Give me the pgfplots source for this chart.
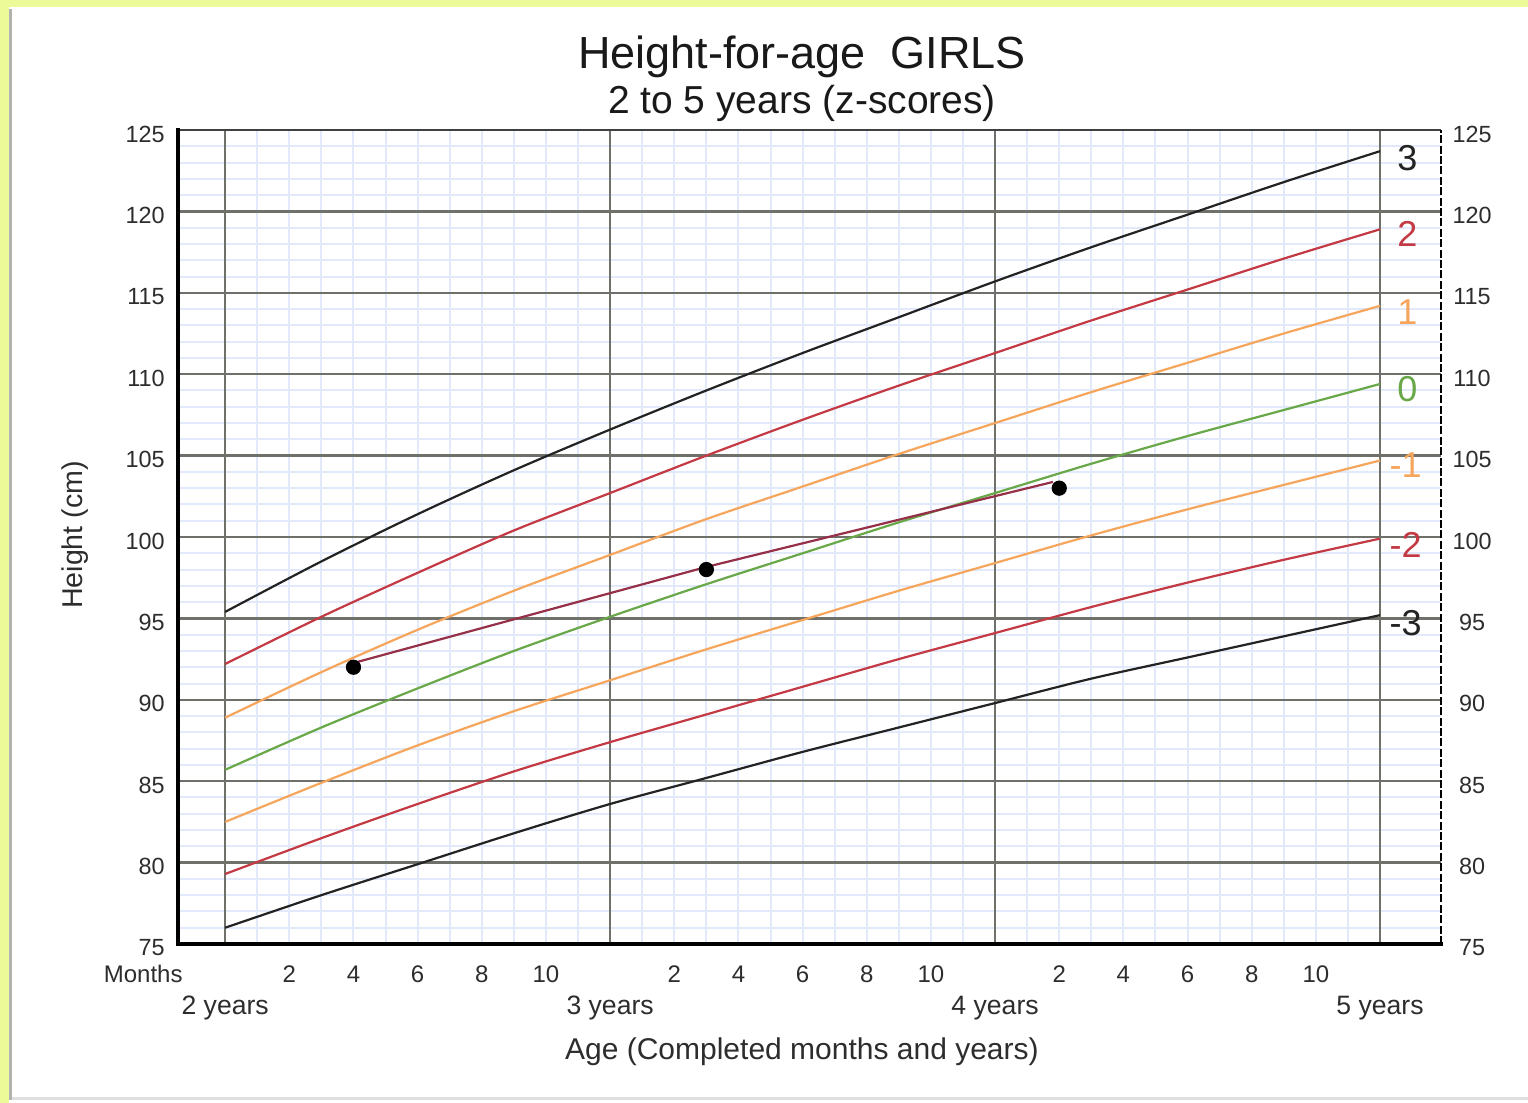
\documentclass[border=0pt]{standalone}
\usepackage{fontspec}
\setmainfont{Liberation Sans}
\usepackage{pgfplots}
\pgfplotsset{compat=1.18}
\usepackage{pgfplotstable}

\definecolor{zblack}{RGB}{35,35,35}
\definecolor{zred}{RGB}{196,58,68}
\definecolor{zorange}{RGB}{246,166,92}
\definecolor{zgreen}{RGB}{104,168,72}
\definecolor{pathred}{RGB}{150,48,72}
\definecolor{gridblue}{RGB}{226,233,250}
\definecolor{gridgray}{RGB}{112,112,106}
\definecolor{txt}{RGB}{45,45,45}
\definecolor{frameyellow}{RGB}{236,251,152}

% WHO height-for-age, girls, 24-60 months (z-score curves)
\pgfplotstableread{
age  m3    m2    m1    z0    p1    p2    p3
24   76.0  79.3  82.5  85.7  88.9  92.2  95.4
27   78.0  81.5  84.9  88.3  91.7  95.1  98.5
30   79.9  83.6  87.2  90.7  94.3  97.8  101.4
33   81.8  85.6  89.3  93.0  96.7  100.4 104.1
36   83.6  87.4  91.2  95.1  98.9  102.7 106.6
39   85.2  89.1  93.1  97.1  101.1 105.0 109.0
42   86.8  90.8  94.9  99.0  103.1 107.2 111.3
45   88.3  92.5  96.7  100.9 105.1 109.3 113.5
48   89.8  94.1  98.4  102.7 107.0 111.3 115.7
51   91.3  95.7  100.1 104.5 108.9 113.3 117.8
54   92.6  97.2  101.7 106.2 110.7 115.2 119.8
57   93.9  98.6  103.2 107.8 112.5 117.1 121.8
60   95.2  99.9  104.7 109.4 114.2 118.9 123.7
}\hfa

\begin{document}
\begin{tikzpicture}
% page frame
\fill[frameyellow] (0,0) rectangle (764pt,551.5pt);
\fill[white] (4.5pt,0) rectangle (764pt,548pt);
\fill[black!30] (4.5pt,1.5pt) rectangle (6pt,547pt);
\fill[black!12] (6pt,1.5pt) rectangle (764pt,3pt);
\useasboundingbox (0,0) rectangle (764pt,551.5pt);

\begin{axis}[
  at={(89pt,79.5pt)}, anchor=south west,
  scale only axis, width=631.5pt, height=407pt,
  xmin=22.53, xmax=61.9, ymin=75, ymax=125,
  clip=false,
  axis line style={draw=none},
  major tick length=0pt, minor tick length=0pt,
  xtick={24,36,48,60},
  xticklabels={2 years,3 years,4 years,5 years},
  minor xtick={25,...,59},
  ytick={75,80,...,125},
  minor ytick={76,...,124},
  xmajorgrids=false, xminorgrids=true,
  ymajorgrids=true, yminorgrids=true,
  minor grid style={draw=gridblue, line width=1pt},
  major grid style={draw=gridgray, line width=1.25pt},
  xticklabel style={font=\fontsize{13.3}{15}\selectfont, text=txt, anchor=base, yshift=-35.5pt},
  extra x ticks={26,28,30,32,34,38,40,42,44,46,50,52,54,56,58},
  extra x tick labels={2,4,6,8,10,2,4,6,8,10,2,4,6,8,10},
  extra x tick style={grid=none, xticklabel style={font=\fontsize{12}{14}\selectfont, yshift=16pt}},
  yticklabel style={font=\fontsize{11.7}{13}\selectfont, text=txt, anchor=east, inner sep=0pt, xshift=-6.5pt, yshift=-2pt},
  /pgf/number format/assume math mode=true,
  xlabel={Age (Completed months and years)},
  xlabel style={at={(axis description cs:0.494,-0.1425)}, anchor=base, font=\fontsize{15}{17}\selectfont, text=txt},
  ylabel={Height (cm)},
  ylabel style={at={(axis description cs:-0.0816,0.5025)}, anchor=center, font=\fontsize{14.3}{16}\selectfont, text=txt},
]
% yearly lines
\foreach \yr in {24,36,48,60}{
  \edef\temp{\noexpand\draw[gridgray, line width=1.25pt] (axis cs:\yr,75) -- (axis cs:\yr,125);}
  \temp
}

\addplot[zblack, line width=1.1pt, smooth] table[x=age, y=p3] {\hfa};
\addplot[zred, line width=1.1pt, smooth] table[x=age, y=p2] {\hfa};
\addplot[zorange, line width=1.1pt, smooth] table[x=age, y=p1] {\hfa};
\addplot[zgreen, line width=1.1pt, smooth] table[x=age, y=z0] {\hfa};
\addplot[zorange, line width=1.1pt, smooth] table[x=age, y=m1] {\hfa};
\addplot[zred, line width=1.1pt, smooth] table[x=age, y=m2] {\hfa};
\addplot[zblack, line width=1.1pt, smooth] table[x=age, y=m3] {\hfa};

% child's measurements
\addplot[pathred, line width=1.1pt] coordinates {(28,92.26) (39,98.16) (49.8,103.38)};
\addplot[only marks, mark=*, mark size=3.6pt, black] coordinates {(28,92.0) (39,98.0) (50,103.0)};

% curve labels
\node[text=zblack, font=\fontsize{18}{20}\selectfont] at (axis cs:60.85,123.3) {3};
\node[text=zred, font=\fontsize{18}{20}\selectfont] at (axis cs:60.85,118.6) {2};
\node[text=zorange, font=\fontsize{18}{20}\selectfont] at (axis cs:60.85,113.8) {1};
\node[text=zgreen, font=\fontsize{18}{20}\selectfont] at (axis cs:60.85,109.1) {0};
\node[text=zorange, font=\fontsize{18}{20}\selectfont] at (axis cs:60.8,104.4) {-1};
\node[text=zred, font=\fontsize{18}{20}\selectfont] at (axis cs:60.8,99.5) {-2};
\node[text=zblack, font=\fontsize{18}{20}\selectfont] at (axis cs:60.8,94.7) {-3};

% borders
\draw[line width=1.3pt, black!75] (rel axis cs:0,1) -- (rel axis cs:1,1);
\draw[line width=1.3pt, black, dash pattern=on 4pt off 1.2pt] (rel axis cs:1,0) -- (rel axis cs:1,1);
\draw[line width=2pt, black, line cap=rect] (rel axis cs:0,1) -- (rel axis cs:0,0) -- (rel axis cs:1,0);
\end{axis}

% right-hand height scale
\begin{axis}[
  at={(89pt,79.5pt)}, anchor=south west,
  scale only axis, width=631.5pt, height=407pt,
  xmin=22.53, xmax=61.9, ymin=75, ymax=125,
  hide x axis, axis y line*=right,
  axis line style={draw=none},
  major tick length=0pt,
  ytick={75,80,...,125},
  yticklabel style={font=\fontsize{11.7}{13}\selectfont, text=txt, anchor=center, xshift=15.5pt, yshift=-2pt},
  /pgf/number format/assume math mode=true,
]
\end{axis}

% titles and bottom-left caption
\node[anchor=base, font=\fontsize{22.5}{25}\selectfont, text=black!90] at (401pt,517pt) {Height-for-age\ \ GIRLS};
\node[anchor=base, font=\fontsize{19.5}{22}\selectfont, text=black!90] at (401pt,494.5pt) {2 to 5 years (z-scores)};
\node[anchor=base east, inner sep=0pt, font=\fontsize{12}{14}\selectfont, text=txt] at (91.5pt,60pt) {Months};
\end{tikzpicture}
\end{document}
